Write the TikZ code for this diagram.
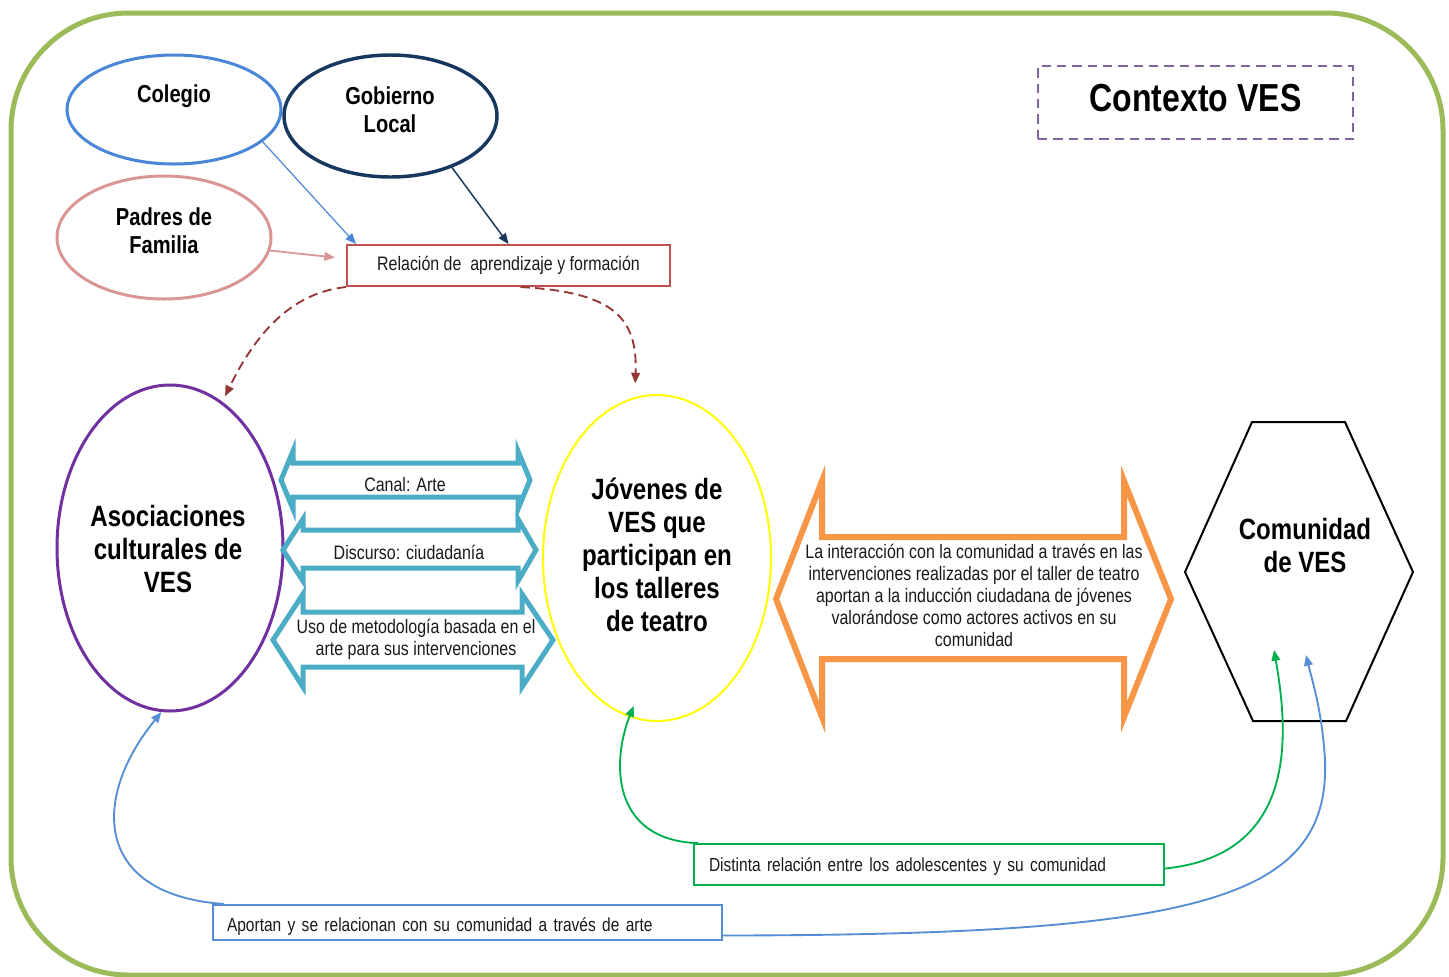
\documentclass[tikz,border=0pt]{standalone}
\usepackage{fontspec}
\setmainfont[FakeStretch=0.82]{Liberation Sans}
\usetikzlibrary{shapes.geometric,arrows.meta,calc}
\definecolor{frameg}{HTML}{9BBB59}
\definecolor{colblue}{HTML}{4A86D8}
\definecolor{navyc}{HTML}{17375E}
\definecolor{pinkc}{HTML}{D99694}
\definecolor{redbox}{HTML}{C0504D}
\definecolor{darkred}{HTML}{953735}
\definecolor{purplec}{HTML}{7030A0}
\definecolor{yellowc}{HTML}{FFFF00}
\definecolor{tealc}{HTML}{4BACC6}
\definecolor{orangec}{HTML}{F79646}
\definecolor{greenc}{HTML}{00B050}
\definecolor{blueb}{HTML}{558ED5}
\definecolor{lilac}{HTML}{8064A2}
\definecolor{txt}{HTML}{1A1A1A}
\begin{document}
\begin{tikzpicture}[x=0.75pt,y=-0.75pt,
  ell/.style={ellipse, draw, line width=2.25pt, inner sep=0pt},
  smalltxt/.style={font=\fontsize{14.6pt}{16.5pt}\selectfont, text=txt, align=center, inner sep=0pt},
  bigtxt/.style={font=\fontsize{22pt}{24.75pt}\selectfont\bfseries, align=center, inner sep=0pt},
  midtxt/.style={font=\fontsize{18.4pt}{21pt}\selectfont\bfseries, align=center, inner sep=0pt},
  tip/.style={-{Triangle[length=8pt,width=6.5pt]}},
  dblarrow/.style={line width=3.75pt, line join=miter, miter limit=12},
  txtbox/.style={draw, line width=1.5pt, font=\fontsize{14.6pt}{16.5pt}\selectfont, text=txt},
  lowbox/.style={draw, line width=1.5pt, font=\fontsize{14.2pt}{16pt}\selectfont, text=txt}
]
\useasboundingbox (0,0) rectangle (1449,976);
\fill[white] (0,0) rectangle (1449,976);

% outer frame
\draw[frameg, line width=3.75pt, rounded corners=88pt] (11,13) rectangle (1443,975);

% title box
\node[draw=lilac, line width=1.5pt, dash pattern=on 7pt off 4.5pt, minimum width=236.25pt, minimum height=54.75pt, inner sep=0pt] (ctx) at (1195.5,102.5) {};
\node[font=\fontsize{29.3pt}{32pt}\selectfont\bfseries, inner sep=0pt] (ctxt) at (1195.5,98) {Contexto VES};

% top ellipses
\node[ell, draw=colblue, minimum width=160.5pt, minimum height=81.75pt] (col) at (174,109.5) {};
\node[midtxt] (colt) at (174,96) {Colegio};
\node[ell, draw=navyc, line width=2.6pt, minimum width=159.75pt, minimum height=91.5pt] (gob) at (390.5,116) {};
\node[midtxt] (gobt) at (390,110) {Gobierno\\Local};
\node[ell, draw=pinkc, minimum width=160.5pt, minimum height=92.25pt] (pad) at (164,237.5) {};
\node[midtxt] (padt) at (164,231) {Padres de\\Familia};

% relation box
\node[txtbox, draw=redbox, minimum width=242.25pt, minimum height=30.75pt, inner sep=0pt] (rel) at (508.5,265.5) {Relación de\ \ aprendizaje y formación};

\draw[colblue, line width=0.9pt, tip] (col.-20) -- ($(rel.north west)+(10,0)$);
\draw[navyc, line width=1.1pt, tip] (gob.-40) -- (rel.north);
\draw[pinkc, line width=1.3pt, tip] (pad.-7) -- ($(rel.west)+(-11,-8)$);

% main ellipses
\node[ell, draw=purplec, minimum width=169.5pt, minimum height=244.5pt] (asoc) at (170,548) {};
\node[bigtxt] (asoct) at (168,549) {Asociaciones\\culturales de\\VES};
\node[ell, draw=yellowc, line width=1.5pt, minimum width=171pt, minimum height=244.5pt] (jov) at (657,558) {};
\node[bigtxt] (jovt) at (657,555) {Jóvenes de\\VES que\\participan en\\los talleres\\de teatro};

% dashed arrows
\draw[darkred, line width=1.4pt, dash pattern=on 7pt off 4pt, tip] (rel.south west) .. controls (290,293) and (255,335) .. ($(asoc.70)+(2,-6)$);
\draw[darkred, line width=1.4pt, dash pattern=on 7pt off 4pt, tip] ($(rel.south)+(12,0)$) .. controls (610,292) and (638,315) .. ($(jov.97)+(-2,-13)$);

% teal double arrows
\draw[tealc, dblarrow] (281,480) -- (293,451) -- (293,463) -- (518,463) -- (518,451) -- (530,480) -- (518,509) -- (518,497) -- (293,497) -- (293,509) -- cycle;
\node[smalltxt] (canal) at (405,485) {Canal: Arte};
\draw[tealc, dblarrow] (283,550) -- (303,519) -- (303,530) -- (518,530) -- (518,519) -- (536,550) -- (518,581) -- (518,568) -- (303,568) -- (303,581) -- cycle;
\node[smalltxt] (disc) at (409,552) {Discurso: ciudadanía};
\draw[tealc, dblarrow] (273,640) -- (303,594) -- (303,612) -- (522,612) -- (522,594) -- (553,640) -- (522,687) -- (522,667) -- (303,667) -- (303,687) -- cycle;
\node[smalltxt] (uso) at (416,639) {Uso de metodología basada en el\\arte para sus intervenciones};

% orange double arrow
\draw[orangec, line width=4.5pt, line join=miter, miter limit=12] (776,599) -- (822,481) -- (822,537) -- (1124,537) -- (1124,481) -- (1171,599) -- (1124,717) -- (1124,659) -- (822,659) -- (822,717) -- cycle;
\node[smalltxt] (inter) at (974,595) {La interacción con la comunidad a través en las\\intervenciones realizadas por el taller de teatro\\aportan a la inducción ciudadana de jóvenes\\valorándose como actores activos en su\\comunidad};

% hexagon
\coordinate (com) at (1299,572);
\draw[black, line width=1.5pt] ($(com)+(-47,-150)$) -- ($(com)+(46,-150)$) -- ($(com)+(114,0)$) -- ($(com)+(47,149)$) -- ($(com)+(-46,149)$) -- ($(com)+(-114,0)$) -- cycle;
\node[bigtxt] (comt) at (1305,546) {Comunidad\\de VES};
\coordinate (grtip) at ($(com)+(-25,78)$);
\coordinate (bltip) at ($(com)+(7,83)$);

% bottom boxes
\node[lowbox, draw=greenc, anchor=west, text width=330pt, inner xsep=11.25pt, inner ysep=0pt, minimum height=30.5pt, align=left] (dist) at (693,864.5) {\raisebox{-1.5pt}[\height][\depth]{Distinta relación entre los adolescentes y su comunidad}};
\node[lowbox, draw=blueb, anchor=west, text width=360.75pt, inner xsep=10.5pt, inner ysep=0pt, minimum height=26.25pt, align=left] (apo) at (212,922.5) {\raisebox{-3pt}[\height][\depth]{Aportan y se relacionan con su comunidad a través de arte}};

% green connectors
\draw[greenc, line width=1.4pt, tip] ($(dist.north west)+(5,0)$) .. controls (610,840) and (612,760) .. ($(jov.-99)+(2,-12)$);
\draw[greenc, line width=1.4pt, tip] ($(dist.east)+(0,4)$) .. controls (1300,855) and (1288,730) .. (grtip);

% blue connectors
\draw[blueb, line width=1.4pt, tip] ($(apo.north west)+(12,0)$) .. controls (95,895) and (90,800) .. (asoc.-93);
\draw[blueb, line width=1.4pt, tip] ($(apo.east)+(0,13)$) .. controls (1200,935) and (1330,900) .. (1325,760) .. controls (1322,710) and (1312,680) .. (bltip);
\end{tikzpicture}
\end{document}
